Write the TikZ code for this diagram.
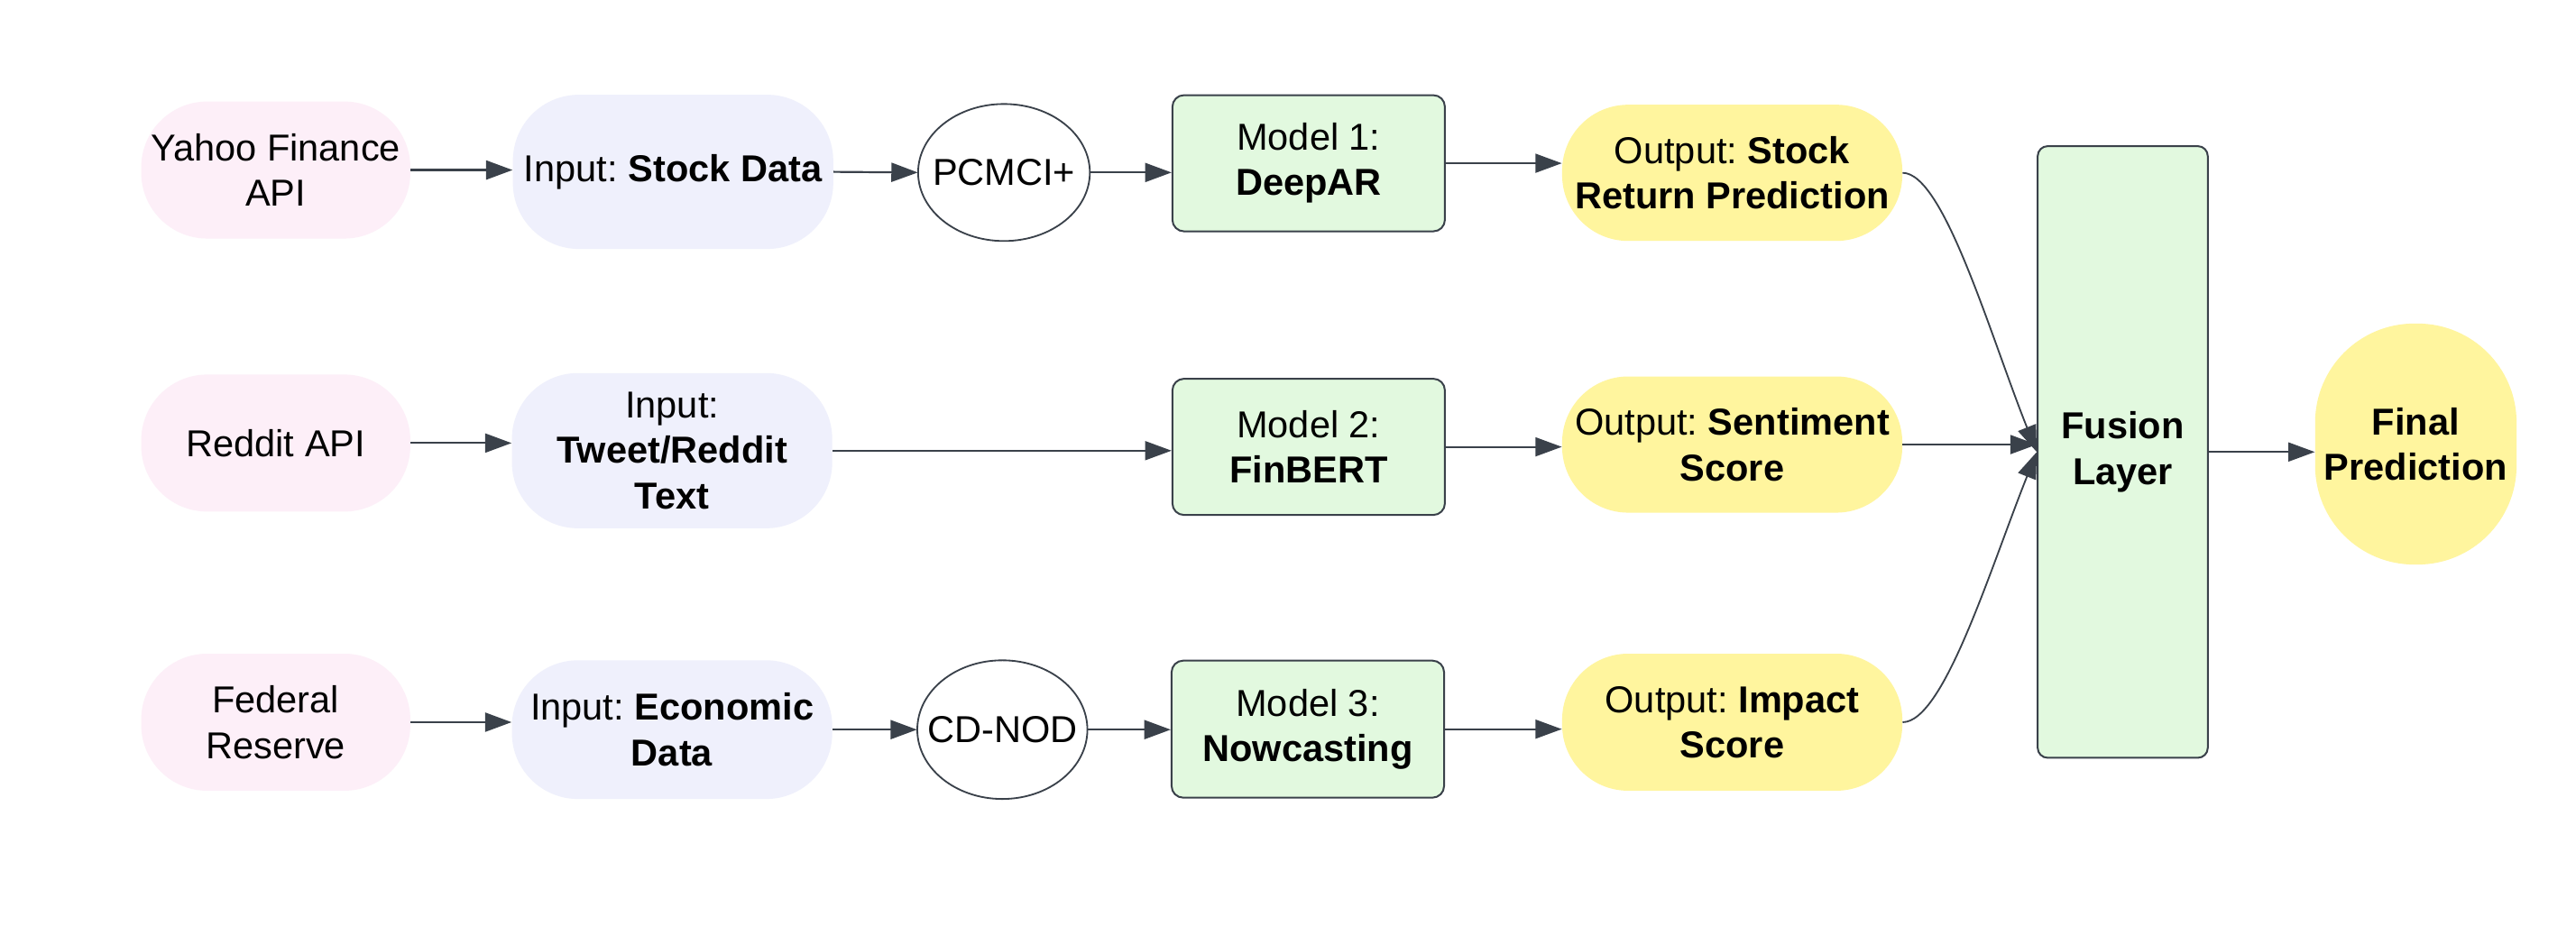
\documentclass[tikz,border=0pt]{standalone}
\usepackage{fontspec}
\setmainfont{Liberation Sans}
\usetikzlibrary{arrows.meta,shapes.geometric}
\definecolor{pinkc}{HTML}{FDEFF8}
\definecolor{lavc}{HTML}{EFF0FC}
\definecolor{yelc}{HTML}{FFF59E}
\definecolor{greenc}{HTML}{E2F9DF}
\definecolor{bordc}{HTML}{3A414A}
\definecolor{arrc}{HTML}{3A414A}
\begin{document}
\frenchspacing
\begin{tikzpicture}[x=1pt,y=-1pt,
  font=\fontsize{22.7}{27.5}\selectfont\frenchspacing,
  base/.style={inner sep=2pt, align=center},
  src/.style={base, fill=pinkc, rounded corners=40pt, minimum width=163pt, minimum height=83pt},
  inp/.style={base, fill=lavc, rounded corners=40pt, minimum width=194pt},
  algtxt/.style={base, rectangle, inner sep=0pt, minimum width=104pt, minimum height=83pt},
  ellbox/.style={draw=bordc, line width=1pt, fill=white},
  mdl/.style={base, rectangle, draw=bordc, line width=1.1pt, fill=greenc, rounded corners=7pt, minimum width=165pt, minimum height=82.5pt},
  outp/.style={base, fill=yelc, rounded corners=40pt, minimum width=206pt, minimum height=82.5pt},
  arr/.style={draw=arrc, line width=1.2pt, -{Triangle[length=16pt,width=11.5pt]}},
  thinarr/.style={draw=arrc, line width=1pt, -{Triangle[length=16pt,width=11.5pt]}}
]
\useasboundingbox[fill=white] (0,0) rectangle (1560,560.42);

% row 1
\node[src] (yahoo) at (167,103) {Yahoo Finance\\API};
\node[inp, minimum height=93.4pt] (in1) at (407.6,104.1) {Input: \textbf{Stock Data}};
\path[ellbox] (608,104.5) ellipse [x radius=52, y radius=41.5];
\node[algtxt] (pc) at (608,104.5) {PCMCI+};
\node[mdl] (m1) at (792.5,98.9) {Model 1:\\\textbf{DeepAR}};
\node[outp] (o1) at (1049,104.7) {Output: \textbf{Stock}\\\textbf{Return Prediction}};

% row 2
\node[src] (red) at (167,268.4) {Reddit API};
\node[inp, minimum height=94pt] (in2) at (407,273) {Input:\\\textbf{Tweet/Reddit}\\\textbf{Text}};
\node[mdl] (m2) at (792.5,270.7) {Model 2:\\\textbf{FinBERT}};
\node[outp] (o2) at (1049,269.3) {Output: \textbf{Sentiment}\\\textbf{Score}};

% row 3
\node[src] (fed) at (167,437.5) {Federal\\Reserve};
\node[inp, minimum height=84pt] (in3) at (407,442) {Input: \textbf{Economic}\\\textbf{Data}};
\path[ellbox] (607,442) ellipse [x radius=51.5, y radius=42];
\node[algtxt, minimum height=84pt, minimum width=103pt] (cd) at (607,442) {CD-NOD};
\node[mdl, minimum height=83pt] (m3) at (792,441.7) {Model 3:\\\textbf{Nowcasting}};
\node[outp, minimum height=83pt] (o3) at (1049,437.5) {Output: \textbf{Impact}\\\textbf{Score}};

% fusion and final
\node[base, rectangle, draw=bordc, line width=1.1pt, fill=greenc, rounded corners=6pt, minimum width=103pt, minimum height=370.5pt] (fu) at (1285.5,273.8) {\textbf{Fusion}\\\textbf{Layer}};
\node[base, fill=yelc, rounded corners=60pt, minimum width=122pt, minimum height=146pt] (fin) at (1463,269) {\textbf{Final}\\\textbf{Prediction}};

% arrows row 1
\draw[arr] (yahoo.east) -- (yahoo.east -| in1.west);
\draw[arr] (in1.east) -- (pc.west);
\draw[arr] (pc.east) -- (pc.east -| m1.west);
\draw[thinarr] (m1.east) -- (m1.east -| o1.west);

% arrows row 2
\draw[arr] (red.east) -- (red.east -| in2.west);
\draw[thinarr] (in2.east) -- (in2.east -| m2.west);
\draw[thinarr] (m2.east) -- (m2.east -| o2.west);

% arrows row 3
\draw[arr] (fed.east) -- (fed.east -| in3.west);
\draw[arr] (in3.east) -- (cd.west);
\draw[arr] (cd.east) -- (cd.east -| m3.west);
\draw[thinarr] (m3.east) -- (m3.east -| o3.west);

% into fusion
\draw[thinarr] (o1.east) .. controls +(25,0) and +(-28,-70) .. (fu.west);
\draw[thinarr] (o2.east) -- (o2.east -| fu.west);
\draw[thinarr] (o3.east) .. controls +(25,0) and +(-28,70) .. (fu.west);
\draw[thinarr] (fu.east) -- (fu.east -| fin.west);
\end{tikzpicture}
\end{document}
